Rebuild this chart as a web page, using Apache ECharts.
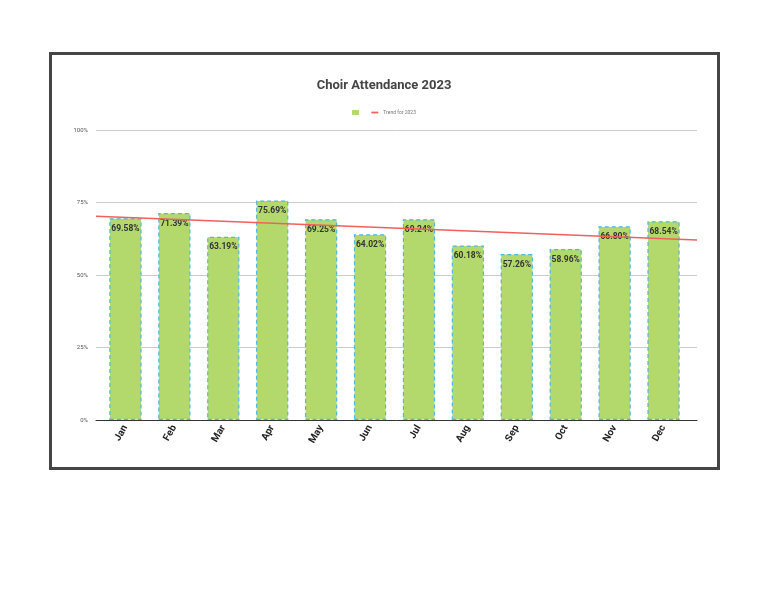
<!DOCTYPE html>
<html>
<head>
<meta charset="utf-8">
<script src="https://cdn.jsdelivr.net/npm/echarts@6/dist/echarts.min.js"></script>
<style>
  html, body { margin: 0; padding: 0; background: #fff; }
  #frame {
    position: absolute; left: 49px; top: 52px; width: 665px; height: 412px;
    border: 3px solid #454545;
  }
  #chart { position: absolute; left: 0; top: 0; width: 768px; height: 594px; }
</style>
</head>
<body>
<div id="frame"></div>
<div id="chart"></div>
<script>
// 数据：每月出勤率
const months = ['Jan', 'Feb', 'Mar', 'Apr', 'May', 'Jun', 'Jul', 'Aug', 'Sep', 'Oct', 'Nov', 'Dec'];
const attendance = [69.58, 71.39, 63.19, 75.69, 69.25, 64.02, 69.24, 60.18, 57.26, 58.96, 66.80, 68.54];
// 趋势线两端（从图上读取，横跨整个绘图区：0 = 左端，1 = 右端）
const trendX = [0, 1];
const trendY = [70.3, 62.1];
const yTicks = [0, 25, 50, 75, 100];

let myChart = echarts.init(document.getElementById('chart'));

let option = {
    animation: false,
    textStyle: { fontFamily: 'Roboto' },
    title: {
        text: 'Choir Attendance 2023',
        left: 'center', top: 74,
        textStyle: { fontSize: 13, fontWeight: 'bold', color: '#444' }
    },
    legend: {
        top: 105, left: 'center',
        itemWidth: 7, itemHeight: 5, itemGap: 6,
        textStyle: { fontSize: 5, color: '#777' },
        data: [
            { name: ' ', icon: 'rect', itemStyle: { borderWidth: 0 } },
            { name: 'Trend for 2023', icon: 'path://M0,0h10v2.5h-10z', itemStyle: { color: '#f0605d' } }
        ]
    },
    // 外层网格：网格线、轴线、趋势线；内层网格：柱子（两侧留白）
    grid: [
        { left: 96, right: 71, top: 130, bottom: 174 },
        { left: 101, right: 80, top: 130, bottom: 174 }
    ],
    xAxis: [{
        gridIndex: 0, type: 'value', min: 0, max: 1,
        axisLine: { show: true, onZero: false, lineStyle: { color: '#333', width: 1 } },
        axisTick: { show: false }, axisLabel: { show: false }, splitLine: { show: false }
    }, {
        gridIndex: 1, type: 'category',
        data: months,
        axisTick: { show: false },
        axisLine: { show: false },
        axisLabel: {
            rotate: 60, fontSize: 10, fontWeight: 'bold', color: '#222', margin: 6
        }
    }],
    yAxis: [{
        gridIndex: 0, type: 'value', min: 0, max: 100, interval: 25,
        axisLabel: {
            fontSize: 6, color: '#555', margin: 8,
            formatter: v => yTicks.includes(v) ? v + '%' : ''
        },
        splitLine: { lineStyle: { color: '#ccc', width: 1 } },
        axisLine: { show: false },
        axisTick: { show: false }
    }, {
        gridIndex: 1, type: 'value', min: 0, max: 100, show: false
    }],
    series: [{
        name: ' ',
        type: 'bar',
        xAxisIndex: 1, yAxisIndex: 1,
        data: attendance,
        barWidth: '66%',
        itemStyle: {
            color: '#b3d96c',
            borderColor: '#4fb8dc',
            borderWidth: 1.2,
            borderType: [4, 3]
        },
        label: {
            show: true, position: 'insideTop', distance: 6,
            fontSize: 8.5, fontWeight: 'bold', color: '#333',
            formatter: p => p.value.toFixed(2) + '%'
        },
        z: 2
    }, {
        name: 'Trend for 2023',
        type: 'line',
        xAxisIndex: 0, yAxisIndex: 0,
        data: trendX.map((x, i) => [x, trendY[i]]),
        symbol: 'none',
        lineStyle: { color: '#f0605d', width: 1.5 },
        itemStyle: { color: '#f0605d' },
        z: 3
    }]
};
myChart.setOption(option);
</script>
</body>
</html>
